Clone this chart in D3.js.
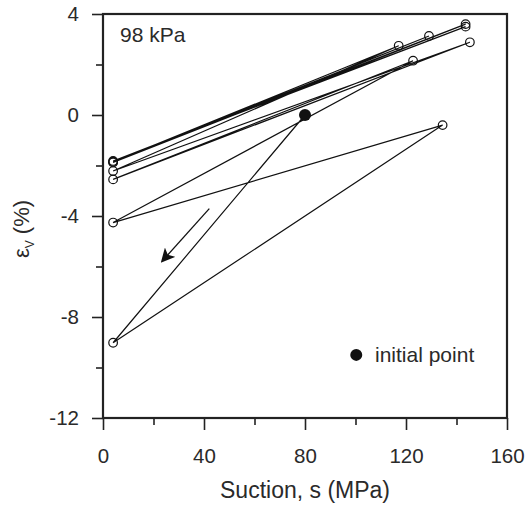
<!DOCTYPE html>
<html>
<head>
<meta charset="utf-8">
<script src="https://cdn.jsdelivr.net/npm/d3@7"></script>
<style>
  body { margin: 0; background: #fff; }
  text { font-family: "Liberation Sans", Arial, sans-serif; fill: #2a2a2a; }
</style>
</head>
<body>
<div id="chart"></div>
<script>
// path of the test, suction (MPa) vs volumetric strain (%)
var suction = [80, 4, 134.5, 4, 122.8, 4, 145.3, 4, 117.1, 4, 129.1, 4, 143.6, 4, 143.6];
var strain  = [0, -9.02, -0.4, -4.26, 2.15, -2.55, 2.88, -2.22, 2.74, -1.85, 3.13, -1.88, 3.6, -1.82, 3.5];

var initialPoint = [80, 0];
var arrowFrom = [42.1, -3.71];
var arrowTo = [23.5, -5.78];

var xTicks = [0, 40, 80, 120, 160];
var xMinor = [20, 60, 100, 140];
var yTicks = [-12, -8, -4, 0, 4];
var yMinor = [-10, -6, -2, 2];

var W = 527, H = 506;
var margin = { top: 14, right: 20, bottom: 88, left: 103 };
var w = W - margin.left - margin.right;
var h = H - margin.top - margin.bottom;

var svg = d3.select("#chart").append("svg")
    .attr("width", W)
    .attr("height", H);

var g = svg.append("g")
    .attr("transform", "translate(" + margin.left + "," + margin.top + ")");

var x = d3.scaleLinear().domain([0, 160]).range([0, w]);
var y = d3.scaleLinear().domain([-12, 4]).range([h, 0]);

// plain hyphen for negatives, like the original
var fmt = function(d) { return String(d); };

// ticks
var xAxis = d3.axisBottom(x).tickValues(xTicks).tickSize(12).tickPadding(18).tickFormat(fmt);
var yAxis = d3.axisLeft(y).tickValues(yTicks).tickSize(11).tickPadding(13).tickFormat(fmt);

g.append("g").attr("transform", "translate(0," + h + ")").call(xAxis);
g.append("g").call(yAxis);

g.append("g").attr("transform", "translate(0," + h + ")")
  .call(d3.axisBottom(x).tickValues(xMinor).tickSize(7).tickFormat(""));
g.append("g")
  .call(d3.axisLeft(y).tickValues(yMinor).tickSize(7).tickFormat(""));

g.selectAll(".domain").remove();
g.selectAll(".tick line").attr("stroke", "#222").attr("stroke-width", 1.6);
g.selectAll(".tick text").style("font-size", "20.5px").attr("fill", "#2a2a2a");

// frame
g.append("rect")
  .attr("x", 0).attr("y", 0)
  .attr("width", w).attr("height", h)
  .attr("fill", "none")
  .attr("stroke", "#222")
  .attr("stroke-width", 2.2);

// path lines
var pts = suction.map(function(s, i) { return [s, strain[i]]; });
var line = d3.line()
    .x(function(d) { return x(d[0]); })
    .y(function(d) { return y(d[1]); });

g.append("path")
  .datum(pts)
  .attr("d", line)
  .attr("fill", "none")
  .attr("stroke", "#111")
  .attr("stroke-width", 1.2);

// open markers
g.selectAll(".pt")
  .data(pts.slice(1))
  .enter().append("circle")
    .attr("class", "pt")
    .attr("cx", function(d) { return x(d[0]); })
    .attr("cy", function(d) { return y(d[1]); })
    .attr("r", 4.3)
    .attr("fill", "none")
    .attr("stroke", "#111")
    .attr("stroke-width", 1.2);

// initial point
g.append("circle")
  .attr("cx", x(initialPoint[0]))
  .attr("cy", y(initialPoint[1]))
  .attr("r", 6)
  .attr("fill", "#111");

// arrow
svg.append("defs").append("marker")
  .attr("id", "head")
  .attr("viewBox", "0 0 12 12")
  .attr("refX", 10).attr("refY", 6)
  .attr("markerWidth", 14).attr("markerHeight", 14)
  .attr("markerUnits", "userSpaceOnUse")
  .attr("orient", "auto")
  .append("path")
    .attr("d", "M0,0 L12,6 L0,12 L3,6 Z")
    .attr("fill", "#111");

g.append("line")
  .attr("x1", x(arrowFrom[0])).attr("y1", y(arrowFrom[1]))
  .attr("x2", x(arrowTo[0])).attr("y2", y(arrowTo[1]))
  .attr("stroke", "#111")
  .attr("stroke-width", 1.3)
  .attr("marker-end", "url(#head)");

// labels
g.append("text")
  .attr("x", 17).attr("y", 28)
  .style("font-size", "21px")
  .text("98 kPa");

g.append("circle")
  .attr("cx", x(100.3)).attr("cy", y(-9.5))
  .attr("r", 6)
  .attr("fill", "#111");

g.append("text")
  .attr("x", 272).attr("y", y(-9.5) + 7)
  .style("font-size", "21px")
  .text("initial point");

svg.append("text")
  .attr("x", margin.left + w / 2).attr("y", 498)
  .attr("text-anchor", "middle")
  .style("font-size", "23px")
  .text("Suction, s (MPa)");

var yl = svg.append("text")
  .attr("transform", "translate(29," + 229 + ") rotate(-90)")
  .attr("text-anchor", "middle")
  .style("font-size", "22px");
yl.append("tspan").text("\u03b5");
yl.append("tspan").attr("dy", 5).style("font-size", "12px").text("V");
yl.append("tspan").attr("dy", -5).text(" (%)");
</script>
</body>
</html>
